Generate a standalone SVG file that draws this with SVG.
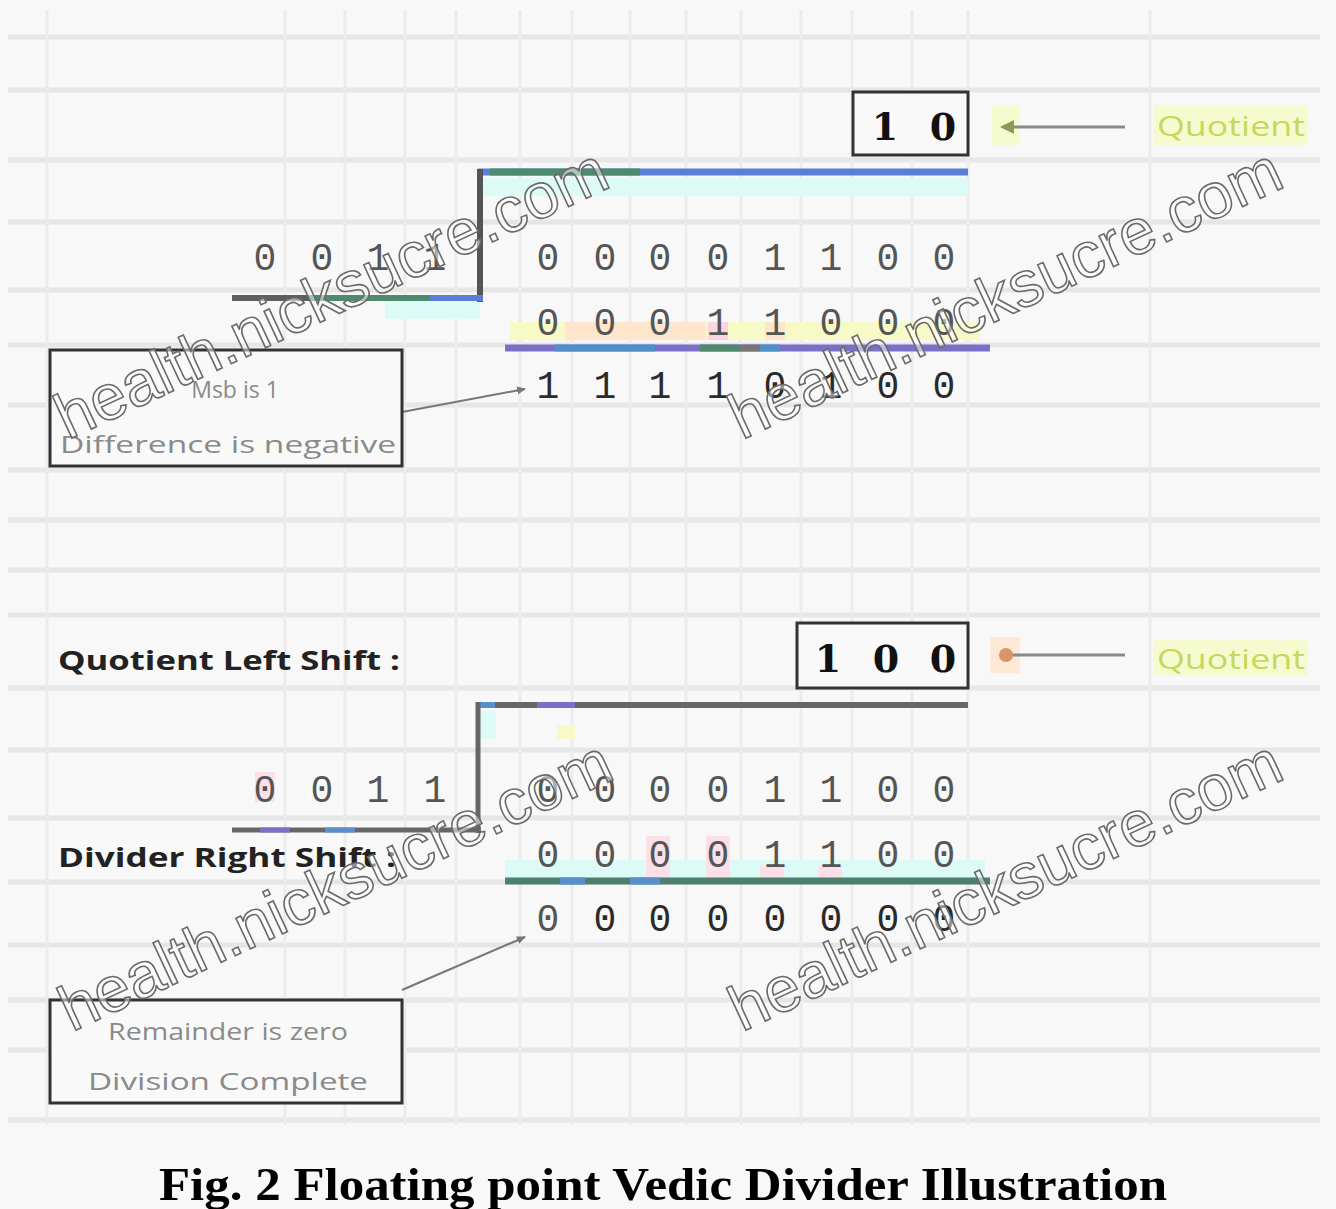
<svg xmlns="http://www.w3.org/2000/svg" width="1336" height="1209" viewBox="0 0 1336 1209">
<defs>
<style>
.grid-h{stroke:#e6e6e6;stroke-width:5}
.grid-v{stroke:#ececec;stroke-width:3}
.dig{font-family:"Liberation Mono","DejaVu Sans Mono",monospace;font-size:38px;fill:#555;text-anchor:middle}
.dk{fill:#2a2a2a}
.q{font-family:"DejaVu Serif","Liberation Serif",serif;font-weight:bold;font-size:38px;fill:#111;text-anchor:middle}
.lbl{font-family:"Open Sans","Liberation Sans",sans-serif;font-weight:bold;font-size:27px;fill:#222}
.note{font-family:"Open Sans","Liberation Sans",sans-serif;font-size:23px;fill:#8a8a8a;text-anchor:middle}
.qt{font-family:"Open Sans","Liberation Sans",sans-serif;font-size:28px;fill:#c6d75a}
.box{fill:#f9f9f9;stroke:#333;stroke-width:3}
.conn{stroke:#777;stroke-width:2;fill:none}
.wm{font-family:"Liberation Sans","DejaVu Sans",sans-serif;font-size:64px;fill:#ffffff;fill-opacity:0.5;stroke:#6a6a6a;stroke-width:1.6}
</style>
<marker id="arr" markerWidth="10" markerHeight="10" refX="8" refY="5" orient="auto" markerUnits="userSpaceOnUse">
<path d="M0,1 L9,5 L0,9 z" fill="#777"/>
</marker>
</defs>
<rect width="1336" height="1209" fill="#f8f8f8"/>
<g id="grid">
<line class="grid-h" x1="8" y1="37" x2="1320" y2="37"/>
<line class="grid-h" x1="8" y1="90" x2="1320" y2="90"/>
<line class="grid-h" x1="8" y1="160" x2="1320" y2="160"/>
<line class="grid-h" x1="8" y1="222" x2="1320" y2="222"/>
<line class="grid-h" x1="8" y1="290" x2="1320" y2="290"/>
<line class="grid-h" x1="8" y1="345" x2="1320" y2="345"/>
<line class="grid-h" x1="8" y1="405" x2="1320" y2="405"/>
<line class="grid-h" x1="8" y1="470" x2="1320" y2="470"/>
<line class="grid-h" x1="8" y1="520" x2="1320" y2="520"/>
<line class="grid-h" x1="8" y1="570" x2="1320" y2="570"/>
<line class="grid-h" x1="8" y1="615" x2="1320" y2="615"/>
<line class="grid-h" x1="8" y1="688" x2="1320" y2="688"/>
<line class="grid-h" x1="8" y1="750" x2="1320" y2="750"/>
<line class="grid-h" x1="8" y1="818" x2="1320" y2="818"/>
<line class="grid-h" x1="8" y1="882" x2="1320" y2="882"/>
<line class="grid-h" x1="8" y1="945" x2="1320" y2="945"/>
<line class="grid-h" x1="8" y1="1000" x2="1320" y2="1000"/>
<line class="grid-h" x1="8" y1="1050" x2="1320" y2="1050"/>
<line class="grid-h" x1="8" y1="1120" x2="1320" y2="1120"/>
<line class="grid-v" x1="47" y1="10" x2="47" y2="1125"/>
<line class="grid-v" x1="285" y1="10" x2="285" y2="1125"/>
<line class="grid-v" x1="345" y1="10" x2="345" y2="1125"/>
<line class="grid-v" x1="405" y1="10" x2="405" y2="1125"/>
<line class="grid-v" x1="456" y1="10" x2="456" y2="1125"/>
<line class="grid-v" x1="520" y1="10" x2="520" y2="1125"/>
<line class="grid-v" x1="572" y1="10" x2="572" y2="1125"/>
<line class="grid-v" x1="630" y1="10" x2="630" y2="1125"/>
<line class="grid-v" x1="686" y1="10" x2="686" y2="1125"/>
<line class="grid-v" x1="741" y1="10" x2="741" y2="1125"/>
<line class="grid-v" x1="801" y1="10" x2="801" y2="1125"/>
<line class="grid-v" x1="852" y1="10" x2="852" y2="1125"/>
<line class="grid-v" x1="912" y1="10" x2="912" y2="1125"/>
<line class="grid-v" x1="968" y1="10" x2="968" y2="1125"/>
<line class="grid-v" x1="1150" y1="10" x2="1150" y2="1125"/>
</g>

<g id="highlights">
<rect x="480" y="178" width="488" height="18" fill="#dcfbf6"/>
<rect x="385" y="301" width="95" height="18" fill="#dcfbf6"/>
<rect x="510" y="322" width="470" height="18" fill="#f7f9c6"/>
<rect x="565" y="322" width="140" height="18" fill="#fde6cc"/>
<rect x="708" y="322" width="20" height="18" fill="#fbd4e0"/>
<rect x="765" y="322" width="20" height="18" fill="#fde6cc"/>
<rect x="480" y="711" width="16" height="28" fill="#dcfbf6"/>
<rect x="557" y="725" width="18" height="14" fill="#f7f9c6"/>
<rect x="255" y="772" width="20" height="30" fill="#fbe0ea"/>
<rect x="505" y="860" width="480" height="20" fill="#dcfbf6"/>
<rect x="646" y="836" width="24" height="44" fill="#fbe0ea"/>
<rect x="706" y="836" width="24" height="44" fill="#fbe0ea"/>
<rect x="760" y="866" width="24" height="14" fill="#fbe0ea"/>
<rect x="818" y="866" width="24" height="14" fill="#fbe0ea"/>
<rect x="992" y="105" width="28" height="40" fill="#f6fbcf"/>
<rect x="1153" y="105" width="155" height="40" fill="#f6fbcf"/>
<rect x="990" y="637" width="30" height="36" fill="#fde9d6"/>
<rect x="1153" y="640" width="155" height="36" fill="#f6fbcf"/>
</g>

<g id="connectors">
<line x1="1125" y1="127" x2="1003" y2="127" stroke="#8a8a8a" stroke-width="3"/>
<path d="M1000,127 L1014,120 L1014,134 z" fill="#8a9a55"/>
<line x1="1125" y1="655" x2="1008" y2="655" stroke="#8a8a8a" stroke-width="3"/>
<circle cx="1006" cy="655" r="7" fill="#d9946a"/>
<line class="conn" x1="402" y1="412" x2="525" y2="389" marker-end="url(#arr)"/>
<line class="conn" x1="402" y1="990" x2="525" y2="937" marker-end="url(#arr)"/>
</g>

<g id="bracket-top">
<line x1="478" y1="172" x2="968" y2="172" stroke="#5a7fd6" stroke-width="7"/>
<line x1="490" y1="172" x2="640" y2="172" stroke="#4d8a6e" stroke-width="7"/>
<line x1="480" y1="169" x2="480" y2="302" stroke="#555" stroke-width="6"/>
<line x1="232" y1="298" x2="483" y2="298" stroke="#5a7fd6" stroke-width="6"/>
<line x1="232" y1="298" x2="430" y2="298" stroke="#4d8a6e" stroke-width="6"/>
<line x1="232" y1="298" x2="310" y2="298" stroke="#5e5e5e" stroke-width="6"/>
<line x1="505" y1="348" x2="990" y2="348" stroke="#7a70c8" stroke-width="7"/>
<line x1="555" y1="348" x2="655" y2="348" stroke="#4f8fc9" stroke-width="7"/>
<line x1="700" y1="348" x2="740" y2="348" stroke="#4d8a6e" stroke-width="7"/>
<line x1="740" y1="348" x2="760" y2="348" stroke="#777" stroke-width="7"/>
<line x1="760" y1="348" x2="780" y2="348" stroke="#4f8fc9" stroke-width="7"/>
</g>

<g id="bracket-bottom">
<line x1="478" y1="705" x2="968" y2="705" stroke="#666" stroke-width="6"/>
<line x1="478" y1="705" x2="495" y2="705" stroke="#5a8fcf" stroke-width="6"/>
<line x1="537" y1="705" x2="575" y2="705" stroke="#7a70c8" stroke-width="6"/>
<line x1="478" y1="702" x2="478" y2="833" stroke="#666" stroke-width="5"/>
<line x1="232" y1="830" x2="481" y2="830" stroke="#666" stroke-width="5"/>
<line x1="260" y1="830" x2="290" y2="830" stroke="#7a70c8" stroke-width="5"/>
<line x1="325" y1="830" x2="355" y2="830" stroke="#5a8fcf" stroke-width="5"/>
<line x1="505" y1="881" x2="990" y2="881" stroke="#4d7f6c" stroke-width="7"/>
<line x1="560" y1="881" x2="585" y2="881" stroke="#5a8fcf" stroke-width="7"/>
<line x1="630" y1="881" x2="660" y2="881" stroke="#5a8fcf" stroke-width="7"/>
</g>

<g id="quotient-top">
<rect class="box" x="853" y="92" width="115" height="63" fill="#ffffff"/>
<text class="q" x="885" y="140">1</text>
<text class="q" x="943" y="140">0</text>
<text class="qt" x="1157" y="136" textLength="148" lengthAdjust="spacingAndGlyphs">Quotient</text>
</g>

<g id="digits-top">
<text class="dig" x="265" y="270">0</text>
<text class="dig" x="322" y="270">0</text>
<text class="dig" x="378" y="270">1</text>
<text class="dig" x="435" y="270">1</text>
<text class="dig" x="548" y="270">0</text>
<text class="dig" x="605" y="270">0</text>
<text class="dig" x="660" y="270">0</text>
<text class="dig" x="718" y="270">0</text>
<text class="dig" x="775" y="270">1</text>
<text class="dig" x="831" y="270">1</text>
<text class="dig" x="888" y="270">0</text>
<text class="dig" x="944" y="270">0</text>
<text class="dig" x="548" y="335">0</text>
<text class="dig" x="605" y="335">0</text>
<text class="dig" x="660" y="335">0</text>
<text class="dig" x="718" y="335">1</text>
<text class="dig" x="775" y="335">1</text>
<text class="dig" x="831" y="335">0</text>
<text class="dig" x="888" y="335">0</text>
<text class="dig" x="944" y="335">0</text>
<text class="dig dk" x="548" y="398">1</text>
<text class="dig dk" x="605" y="398">1</text>
<text class="dig dk" x="660" y="398">1</text>
<text class="dig dk" x="718" y="398">1</text>
<text class="dig dk" x="775" y="398">0</text>
<text class="dig dk" x="831" y="398">1</text>
<text class="dig dk" x="888" y="398">0</text>
<text class="dig dk" x="944" y="398">0</text>
</g>

<g id="note-top">
<rect class="box" x="50" y="350" width="352" height="116"/>
<text class="note" x="235" y="398">Msb is 1</text>
<text class="note" x="228" y="453" textLength="336" lengthAdjust="spacingAndGlyphs">Difference is negative</text>
</g>

<g id="shift-labels">
<text class="lbl" x="58" y="670" textLength="342" lengthAdjust="spacingAndGlyphs">Quotient Left Shift :</text>
<text class="lbl" x="58" y="867" textLength="338" lengthAdjust="spacingAndGlyphs">Divider Right Shift :</text>
</g>

<g id="quotient-bottom">
<rect class="box" x="797" y="623" width="171" height="65" fill="#ffffff"/>
<text class="q" x="828" y="672">1</text>
<text class="q" x="886" y="672">0</text>
<text class="q" x="943" y="672">0</text>
<text class="qt" x="1157" y="669" textLength="148" lengthAdjust="spacingAndGlyphs">Quotient</text>
</g>

<g id="digits-bottom">
<text class="dig" x="265" y="802" fill="#b4506e">0</text>
<text class="dig" x="322" y="802">0</text>
<text class="dig" x="378" y="802">1</text>
<text class="dig" x="435" y="802">1</text>
<text class="dig" x="548" y="802">0</text>
<text class="dig" x="605" y="802">0</text>
<text class="dig" x="660" y="802">0</text>
<text class="dig" x="718" y="802">0</text>
<text class="dig" x="775" y="802">1</text>
<text class="dig" x="831" y="802">1</text>
<text class="dig" x="888" y="802">0</text>
<text class="dig" x="944" y="802">0</text>
<text class="dig" x="548" y="867" fill="#7a9a80">0</text>
<text class="dig" x="605" y="867" fill="#7a9a80">0</text>
<text class="dig" x="660" y="867" fill="#c0506e">0</text>
<text class="dig" x="718" y="867" fill="#c0506e">0</text>
<text class="dig" x="775" y="867" fill="#8a4a5a">1</text>
<text class="dig" x="831" y="867" fill="#8a4a5a">1</text>
<text class="dig" x="888" y="867" fill="#7a9a80">0</text>
<text class="dig" x="944" y="867" fill="#7a9a80">0</text>
<text class="dig" x="548" y="931" fill="#9a9a9a">0</text>
<text class="dig dk" x="605" y="931">0</text>
<text class="dig dk" x="660" y="931">0</text>
<text class="dig dk" x="718" y="931">0</text>
<text class="dig dk" x="775" y="931">0</text>
<text class="dig dk" x="831" y="931">0</text>
<text class="dig dk" x="888" y="931">0</text>
<text class="dig dk" x="944" y="931">0</text>
</g>

<g id="note-bottom">
<rect class="box" x="50" y="1000" width="352" height="103"/>
<text class="note" x="228" y="1040" textLength="240" lengthAdjust="spacingAndGlyphs">Remainder is zero</text>
<text class="note" x="228" y="1090" textLength="280" lengthAdjust="spacingAndGlyphs">Division Complete</text>
</g>

<g id="watermarks">
<text class="wm" transform="translate(68,440) rotate(-25)">health.nicksucre.com</text>
<text class="wm" transform="translate(742,440) rotate(-25)">health.nicksucre.com</text>
<text class="wm" transform="translate(72,1032) rotate(-25)">health.nicksucre.com</text>
<text class="wm" transform="translate(742,1032) rotate(-25)">health.nicksucre.com</text>
</g>

<text x="663" y="1200" text-anchor="middle" font-family="Liberation Serif, serif" font-weight="bold" font-size="46" fill="#000" textLength="1008" lengthAdjust="spacingAndGlyphs">Fig. 2 Floating point Vedic Divider Illustration</text>
</svg>
